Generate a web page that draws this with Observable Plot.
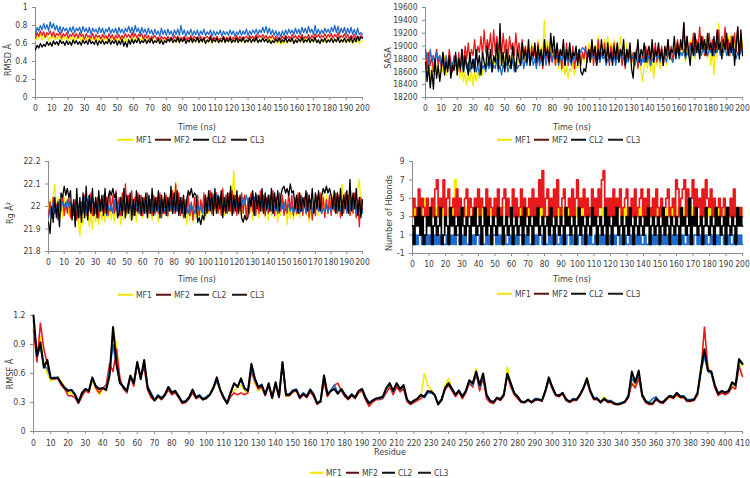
<!DOCTYPE html>
<html>
<head>
<meta charset="utf-8">
<script src="https://cdn.jsdelivr.net/npm/d3@7"></script>
<script src="https://cdn.jsdelivr.net/npm/@observablehq/plot@0.6"></script>
<style>
  body { margin: 0; background: #fff; }
  #fig { position: relative; width: 750px; height: 478px; overflow: hidden; background: #fff;
         font-family: "Liberation Sans Narrow", "Arial Narrow", "DejaVu Sans Condensed", Lato, sans-serif; color: #404040; }
  #fig svg { position: absolute; overflow: visible; }
  .t { position: absolute; white-space: nowrap; font-size: 9px; line-height: 1; transform: translate(-50%, -50%); }
  .ty { position: absolute; white-space: nowrap; font-size: 9px; line-height: 1; transform: translate(-50%, -50%) rotate(-90deg); }
  .lg { position: absolute; display: flex; align-items: center; font-size: 8.5px; line-height: 1; transform: translateY(-50%); }
  .lg .it { display: flex; align-items: center; }
  .lg .sw { height: 2px; margin-right: 3px; }
</style>
</head>
<body>
<div id="fig"></div>
<script>
// ---- series names and colours ----
const seriesNames = ["MF1", "MF2", "CL2", "CL3"];
const lineColors = ["#f4ea00", "#e8191b", "#1f6ccc", "#000000"];
const legendColors = ["#f0e400", "#5a1414", "#121212", "#1a1a1a"];

// ---- sampling (ns / residue) ----
const timeNs = d3.range(0, 201);          // one frame per ns
const residues = d3.range(0, 411, 2);     // every second residue

// ---- RMSD (Å) ----
const rmsdMF1 = [
.63,.68,.65,.70,.64,.69,.66,.70,.63,.68,.65,.69,.64,.67,.66,.69,.63,.68,.65,.67,
.62,.67,.64,.68,.63,.66,.65,.68,.62,.67,.64,.66,.63,.68,.62,.66,.64,.67,.63,.66,
.62,.66,.64,.67,.62,.65,.63,.67,.64,.66,.62,.65,.63,.67,.61,.66,.63,.65,.62,.67,
.63,.66,.62,.67,.64,.66,.62,.65,.63,.66,.61,.65,.62,.64,.63,.66,.61,.64,.62,.65,
.61,.64,.63,.66,.62,.64,.61,.65,.62,.64,.63,.65,.61,.64,.62,.66,.61,.63,.62,.65,
.61,.64,.62,.65,.61,.63,.62,.65,.60,.64,.62,.64,.61,.63,.62,.65,.61,.64,.62,.63,
.61,.64,.62,.66,.61,.64,.62,.65,.61,.63,.62,.65,.61,.64,.63,.66,.62,.64,.63,.66,
.62,.65,.63,.66,.62,.64,.61,.63,.60,.63,.59,.62,.60,.64,.61,.63,.62,.65,.61,.64,
.62,.65,.61,.64,.63,.66,.62,.64,.61,.65,.62,.64,.61,.63,.62,.65,.61,.64,.62,.66,
.62,.65,.61,.64,.63,.66,.62,.65,.61,.64,.62,.65,.61,.63,.60,.64,.61,.63,.60,.62,
.63];
const rmsdMF2 = [
.66,.72,.68,.74,.69,.73,.67,.72,.70,.74,.68,.73,.67,.71,.69,.73,.66,.71,.68,.72,
.66,.70,.68,.72,.67,.71,.66,.72,.68,.70,.65,.71,.67,.69,.66,.71,.65,.70,.67,.69,
.65,.70,.66,.69,.65,.71,.66,.70,.64,.69,.66,.70,.65,.69,.66,.71,.67,.70,.66,.72,
.67,.71,.66,.70,.68,.71,.65,.70,.66,.69,.64,.68,.66,.69,.65,.67,.64,.68,.65,.67,
.64,.68,.65,.67,.64,.69,.65,.68,.64,.67,.65,.68,.64,.67,.65,.69,.64,.68,.66,.67,
.65,.68,.64,.67,.66,.68,.65,.69,.64,.67,.65,.68,.64,.66,.65,.68,.64,.67,.65,.68,
.64,.67,.65,.69,.64,.68,.65,.67,.66,.68,.65,.69,.66,.68,.65,.70,.66,.69,.67,.70,
.66,.69,.65,.68,.66,.69,.64,.68,.65,.67,.64,.68,.65,.69,.66,.68,.65,.70,.66,.69,
.65,.69,.66,.70,.65,.68,.66,.70,.65,.69,.66,.71,.67,.70,.66,.69,.67,.71,.66,.70,
.67,.71,.66,.70,.67,.72,.66,.69,.67,.71,.66,.70,.65,.69,.66,.70,.65,.68,.66,.69,
.67];
const rmsdCL2 = [
.70,.78,.74,.80,.75,.82,.76,.81,.74,.84,.77,.82,.75,.80,.73,.79,.72,.78,.74,.77,
.71,.78,.73,.79,.72,.77,.74,.78,.71,.79,.73,.77,.72,.78,.70,.77,.73,.76,.71,.78,
.72,.77,.70,.76,.73,.78,.71,.76,.72,.77,.70,.78,.72,.76,.71,.77,.73,.79,.72,.78,
.71,.80,.73,.77,.70,.78,.72,.76,.70,.77,.71,.75,.69,.76,.70,.74,.68,.77,.70,.75,
.69,.76,.70,.74,.68,.75,.70,.76,.69,.80,.70,.75,.68,.74,.70,.76,.69,.74,.70,.75,
.68,.74,.70,.76,.69,.73,.70,.75,.68,.74,.69,.73,.70,.75,.68,.74,.70,.73,.69,.75,
.70,.74,.68,.73,.70,.75,.69,.74,.70,.76,.69,.74,.70,.75,.71,.76,.70,.75,.72,.78,
.72,.79,.71,.77,.70,.75,.69,.74,.68,.73,.67,.74,.69,.75,.70,.76,.71,.75,.70,.77,
.71,.76,.70,.78,.72,.77,.71,.79,.72,.76,.70,.80,.71,.76,.70,.75,.71,.77,.72,.76,
.71,.78,.73,.80,.72,.79,.71,.77,.72,.78,.70,.77,.71,.78,.70,.76,.69,.77,.70,.72,
.70];
const rmsdCL3 = [
.53,.58,.55,.60,.56,.59,.57,.62,.58,.61,.57,.63,.59,.62,.58,.64,.60,.62,.58,.63,
.59,.62,.58,.64,.60,.63,.59,.62,.58,.64,.60,.63,.59,.65,.60,.62,.59,.64,.58,.63,
.60,.64,.59,.62,.60,.65,.59,.63,.60,.64,.58,.63,.59,.65,.57,.62,.56,.64,.59,.65,
.60,.64,.61,.66,.60,.63,.61,.65,.60,.64,.61,.66,.60,.63,.61,.65,.60,.64,.59,.63,
.61,.65,.62,.66,.61,.64,.62,.67,.61,.65,.62,.66,.60,.64,.62,.66,.61,.65,.62,.67,
.61,.65,.62,.66,.60,.64,.62,.67,.61,.65,.62,.66,.61,.64,.62,.67,.61,.65,.62,.66,
.61,.64,.62,.66,.61,.65,.62,.67,.61,.64,.62,.66,.61,.65,.62,.67,.61,.64,.62,.66,
.62,.65,.61,.64,.60,.63,.61,.65,.62,.66,.61,.64,.62,.67,.61,.65,.62,.66,.60,.64,
.61,.65,.62,.67,.61,.64,.62,.66,.61,.65,.62,.67,.61,.64,.60,.65,.62,.66,.61,.64,
.62,.66,.61,.65,.62,.67,.61,.64,.62,.66,.61,.65,.62,.67,.61,.66,.62,.68,.63,.67,
.66];

// ---- SASA (Å²) ----
const sasaMF1 = [
18800,18550,18750,18500,18700,18600,18800,18550,18650,18500,18750,18600,18850,18550,18700,18650,18800,18600,18750,18650,
18550,18700,18500,18650,18450,18600,18400,18550,18450,18620,18380,18600,18450,18650,18500,18700,18550,18750,18600,18800,
18650,18850,18600,18800,18700,18900,18650,18850,18700,18950,18650,18800,18600,18850,18700,18900,18650,18800,18700,18950,
18750,18900,18700,19000,18800,18950,18750,19050,18850,19000,18800,19100,18850,19000,18900,19400,18950,19100,18850,19050,
18800,18950,18700,18900,18650,18850,18600,18750,18550,18700,18500,18650,18600,18750,18550,18700,18650,18800,18700,18900,
18750,18950,18850,19050,18900,19100,18850,19000,18950,19150,18900,19050,18850,19100,18950,19150,18900,19050,18950,19100,
18850,19050,18900,19150,18850,19000,18800,19050,18750,18950,18700,18900,18650,18850,18700,18800,18600,18450,18700,18850,
18650,18900,18600,18850,18500,18800,18700,18900,18650,18850,18750,18950,18700,18900,18800,18950,18750,19000,18850,18950,
18800,19050,18850,19000,18750,18950,18900,19100,18850,19050,18800,19000,18900,19100,18850,19050,18950,19150,18800,19000,
18700,18950,18550,19050,18800,19350,18900,19100,18850,19250,18950,19150,18900,19200,18850,19100,18950,19250,18900,19200,
19000];
const sasaMF2 = [
18950,18650,18900,18700,18850,18600,18800,18950,18700,18850,18650,18900,18700,18800,18650,18950,18750,18600,18850,18700,
18650,18900,18600,18950,18700,19000,18800,19050,18750,18950,18850,19100,18800,19000,18900,19150,18850,19250,18900,19100,
18950,19200,18850,19250,18900,19150,18950,19050,18850,19200,18900,19100,18800,19150,18950,19050,18850,19200,18900,19050,
18800,19100,18850,19000,18750,18950,18700,19000,18800,18950,18700,19050,18750,18900,18650,18950,18800,19000,18700,18900,
18750,18950,18700,19000,18800,18900,18650,18950,18750,19050,18700,18900,18800,19000,18650,18850,18750,18950,18700,18900,
18800,19000,18750,18950,18850,19050,18700,18950,18800,19100,18750,18900,18850,19050,18800,18950,18700,19000,18850,19050,
18750,19000,18800,18950,18700,18900,18650,18950,18800,19000,18750,18900,18700,18950,18650,18850,18700,18900,18750,19000,
18800,18950,18700,19000,18850,19050,18750,18950,18800,19000,18700,18900,18850,19100,18800,19000,18750,18950,18900,19100,
18850,19050,18950,19350,18900,19150,18850,19050,18950,19200,18900,19100,19000,19300,18950,19150,18850,19050,18950,19200,
18900,19100,18850,19050,18950,19250,18900,19150,19000,19300,18950,19100,18850,19150,18950,19200,18900,19300,18850,19050,
18950];
const sasaCL2 = [
18800,18900,18700,18950,18750,18850,18700,18900,18800,18850,18700,18800,18650,18850,18700,18800,18650,18750,18700,18850,
18650,18800,18700,18750,18600,18800,18650,18750,18600,18700,18650,18800,18600,18700,18550,18750,18650,18700,18600,18750,
18650,18750,18600,18700,18650,18800,18600,18700,18550,18700,18650,18750,18600,18700,18650,18800,18600,18750,18650,18700,
18700,18850,18650,18800,18700,18900,18750,18850,18700,18800,18650,18850,18700,18800,18750,18900,18700,18850,18800,18900,
18750,18900,18800,18850,18700,18850,18750,18900,18700,18850,18750,18800,18700,18850,18800,18900,18850,18950,18900,18980,
18950,18920,18880,18850,18750,18900,18800,18850,18700,18850,18750,18900,18800,18850,18700,18800,18750,18900,18800,18850,
18700,18850,18750,18900,18800,18850,18700,18800,18750,18900,18800,18850,18700,18800,18750,18850,18700,18800,18750,18900,
18750,18850,18700,18800,18750,18900,18800,18850,18750,18900,18800,18850,18750,18900,18850,18800,18750,18900,18850,18950,
18800,18900,18850,18950,18800,18900,18850,19000,18900,18950,18850,19000,18900,19050,18850,18950,18900,19000,18850,18950,
18900,19000,18850,18950,18900,19050,18850,18950,18900,19000,18850,18950,18900,19050,18850,18950,18800,18900,18850,18950,
18900];
const sasaCL3 = [
18750,18450,18700,18350,18620,18330,18800,18500,18700,18450,18650,18900,18550,18750,18600,18850,18500,18700,18620,18900,
18550,18800,18650,18950,18600,18850,18700,18550,18900,18650,18800,18600,18950,18700,18850,18550,18900,18750,18650,19000,
18700,18950,18600,18850,18750,19050,18650,19350,18700,18900,18600,18950,18700,18850,18650,19000,18750,18600,18950,18800,
18700,19050,18800,18950,18750,19100,18700,18900,18850,19050,18750,19000,18800,18950,18700,19100,18850,18950,18750,19200,
18900,19150,18800,19050,18750,18950,18850,19100,18700,18950,18800,19050,18750,18900,18850,19000,18700,18950,18600,18550,
18650,18600,18800,18950,18750,19100,18850,19000,18700,18950,18800,19100,18850,18950,18750,19050,18800,18900,18700,19000,
18800,19050,18750,18950,18850,19100,18700,18950,18800,19050,18650,18500,18900,18800,19100,18750,18950,18850,19050,18750,
18900,19000,18800,19100,18750,18950,18850,19050,18800,18950,18700,19000,18850,19100,18800,18950,18900,19150,18800,19050,
18850,19100,18950,19370,18850,19150,18900,18700,19050,18850,19200,18900,19050,18800,19150,18950,19100,18850,19200,18950,
19050,18850,19150,18900,19250,18950,19050,18800,19100,18950,19200,18850,19050,18900,19150,18700,19000,19300,18800,19250,
18850];

// ---- Radius of gyration (Å) ----
const rgMF1 = [
21.99,22.03,21.97,22.05,22.10,21.98,22.04,21.96,22.02,21.95,22.04,21.98,22.03,21.96,22.01,21.94,22.02,21.97,22.03,21.93,
21.87,21.98,21.92,22.02,21.95,22.00,21.91,21.97,21.90,21.99,21.93,21.97,21.92,21.98,21.94,22.00,21.93,21.98,21.95,22.01,
21.94,21.99,21.93,22.02,21.95,22.00,21.92,21.98,21.94,22.03,21.96,22.01,21.94,22.02,21.95,22.00,21.93,22.03,21.96,22.01,
21.95,22.02,21.97,22.04,21.95,22.01,21.94,22.03,21.96,22.02,21.93,22.01,21.96,22.04,21.97,22.02,21.95,22.05,21.98,22.04,
21.97,22.11,21.98,22.05,21.96,22.03,21.95,22.02,21.92,21.99,21.94,22.01,21.93,21.98,21.95,22.02,21.94,22.00,21.96,22.03,
21.95,22.02,21.97,22.04,21.96,22.06,21.98,22.03,21.97,22.05,21.99,22.04,21.96,22.03,21.98,22.06,21.97,22.05,22.16,22.02,
21.98,22.04,21.96,22.03,21.97,22.05,21.95,22.02,21.96,22.04,21.94,22.01,21.97,22.05,21.95,22.03,21.97,22.04,21.95,22.01,
21.94,22.02,21.96,22.04,21.95,22.03,21.93,22.01,21.96,22.04,21.97,22.03,21.92,22.00,21.95,22.02,21.94,22.01,21.96,22.03,
21.95,22.02,21.97,22.04,21.96,22.01,21.93,21.99,21.95,22.03,21.97,22.05,21.96,22.04,21.98,22.06,21.97,22.05,21.99,22.04,
21.97,22.05,21.98,22.03,21.96,22.04,21.99,22.10,21.97,22.05,21.98,22.04,21.96,22.06,21.97,22.03,21.95,22.08,22.12,22.00,
22.02];
const rgMF2 = [
21.96,22.02,21.95,22.04,21.97,22.01,21.94,22.03,21.98,22.05,21.96,22.02,21.97,22.04,21.95,22.01,21.96,22.03,21.94,22.00,
21.95,22.02,21.97,22.05,21.96,22.03,21.98,22.06,21.96,22.02,21.97,22.04,21.95,22.03,21.98,22.05,21.97,22.04,21.96,22.06,
21.98,22.05,21.97,22.07,21.99,22.04,21.96,22.06,21.98,22.10,21.97,22.05,21.99,22.07,21.96,22.04,21.98,22.06,21.97,22.05,
21.96,22.04,21.98,22.06,21.97,22.03,21.96,22.05,21.98,22.04,21.97,22.06,21.95,22.03,21.97,22.05,21.96,22.04,21.98,22.07,
21.97,22.10,21.98,22.06,21.96,22.04,21.95,22.03,21.97,22.05,21.96,22.02,21.94,22.04,21.97,22.05,21.96,22.03,21.98,22.06,
21.96,22.04,21.98,22.07,21.97,22.05,21.99,22.06,21.97,22.04,21.96,22.08,21.98,22.05,21.97,22.06,21.98,22.07,21.97,22.05,
21.96,22.04,21.98,22.06,21.97,22.05,21.95,22.03,21.97,22.06,21.98,22.04,21.96,22.05,21.97,22.07,21.98,22.05,21.96,22.04,
21.97,22.05,21.98,22.07,21.96,22.04,21.97,22.06,21.98,22.05,21.96,22.03,21.97,22.06,21.98,22.05,21.96,22.04,21.97,22.06,
21.98,22.05,21.96,22.04,21.97,22.06,21.95,22.03,21.94,22.02,21.96,22.05,21.98,22.06,21.97,22.04,21.95,22.03,21.97,22.05,
21.96,22.04,21.98,22.06,21.97,22.05,21.95,22.03,21.97,22.06,21.98,22.05,21.96,22.04,21.97,22.06,21.95,22.03,21.91,22.04,
21.98];
const rgCL2 = [
21.95,21.99,21.96,22.02,21.97,22.00,21.98,22.03,21.99,22.02,22.01,21.99,22.03,22.00,22.02,21.98,22.01,21.97,22.03,21.99,
21.96,22.02,21.98,22.04,21.97,22.03,22.05,22.01,22.04,21.98,22.02,21.97,22.01,21.98,22.03,21.99,22.02,21.96,22.00,21.98,
22.01,21.97,22.03,21.98,22.02,21.96,22.01,21.99,22.04,21.98,22.02,21.97,22.00,21.99,22.03,21.98,22.01,21.97,22.02,21.99,
21.98,22.02,21.97,22.01,21.99,22.03,21.98,22.02,21.97,22.01,21.98,22.03,21.99,22.02,21.98,22.00,21.97,22.02,21.99,22.03,
22.00,21.97,22.02,21.98,22.01,21.97,22.00,21.96,21.99,21.97,22.01,21.98,22.00,21.97,21.99,22.01,21.98,22.00,21.97,22.01,
21.98,22.02,21.99,22.03,22.01,22.04,22.02,22.05,22.03,22.01,22.04,21.99,22.02,21.98,22.03,22.00,22.04,22.01,22.03,21.99,
22.02,21.98,22.03,22.00,22.04,22.01,22.05,22.02,22.04,22.01,22.06,22.03,22.05,22.02,22.04,22.01,22.03,21.99,22.02,21.98,
22.01,21.98,22.02,21.97,22.00,21.98,22.01,21.97,22.03,21.99,22.02,21.98,21.99,22.01,21.98,22.00,21.97,21.99,21.98,22.00,
21.97,21.99,21.98,22.01,21.97,22.00,21.98,22.02,21.97,22.01,21.99,22.03,21.98,22.00,21.97,21.99,21.98,22.01,21.97,22.00,
21.98,22.02,21.99,22.01,21.97,22.03,21.98,22.00,21.99,22.02,21.97,22.01,21.98,22.03,21.99,22.01,21.97,22.02,21.98,22.00,
21.97];
const rgCL3 = [
21.93,21.88,22.00,21.93,22.04,21.95,22.02,21.91,22.06,22.04,22.09,22.05,22.08,22.04,22.07,21.94,22.03,21.91,22.08,21.95,
22.04,21.93,22.06,21.95,22.09,21.94,22.05,21.97,22.08,21.96,22.04,21.95,22.07,21.98,22.05,21.96,22.08,21.97,22.04,22.07,
22.05,22.08,22.04,22.06,21.95,21.97,22.04,21.96,22.08,21.95,22.05,21.97,22.06,21.94,22.03,21.96,22.07,21.98,22.05,21.96,
22.04,21.97,22.06,21.95,22.05,21.97,22.08,21.96,22.04,21.98,22.07,21.95,22.05,21.97,22.06,21.96,22.04,21.98,22.09,21.97,
22.06,21.98,22.07,21.96,22.04,21.97,22.05,21.95,22.03,22.07,22.05,22.08,22.04,22.06,22.05,21.93,21.95,21.92,21.96,21.94,
22.05,21.97,22.07,21.98,22.06,21.96,22.08,21.97,22.05,21.99,22.07,21.95,22.04,21.97,22.06,21.98,22.09,21.96,22.05,21.98,
22.07,21.97,22.05,21.95,21.93,21.96,21.94,21.95,22.04,22.00,22.07,21.96,22.06,21.99,22.05,21.98,22.08,21.97,22.06,21.99,
22.05,21.98,22.08,21.97,22.06,21.99,22.07,21.98,22.05,22.08,22.09,22.06,22.08,22.05,22.10,22.06,22.07,21.99,22.05,21.97,
22.06,21.98,22.04,22.00,22.07,21.98,22.05,21.99,22.08,21.97,22.06,21.99,22.07,21.98,22.05,22.08,22.06,22.09,22.06,22.08,
22.05,21.99,22.07,21.97,22.06,21.98,22.08,21.96,22.05,21.99,22.07,21.97,22.12,21.98,22.06,21.99,22.08,21.96,22.04,21.95,
22.03];

// ---- Hydrogen bonds (count) ----
const hbMF1 = [
3,4,3,4,3,4,4,3,5,4,3,4,3,3,4,3,4,3,4,3,
5,4,3,4,3,4,7,4,3,4,3,4,4,3,4,3,3,4,3,4,
3,4,3,4,4,3,4,3,4,3,3,4,3,4,3,4,4,3,4,3,
4,3,4,3,3,4,3,4,3,4,4,3,4,3,4,3,3,4,3,4,
3,4,4,3,4,3,4,3,3,4,3,4,3,4,4,3,4,3,4,3,
4,3,3,4,3,4,3,4,4,3,4,3,4,3,3,4,3,4,3,4,
5,4,3,4,3,4,5,3,4,3,4,3,3,4,3,4,4,3,4,3,
3,4,3,4,4,3,4,5,3,4,3,4,3,3,4,3,4,3,4,4,
4,3,4,3,3,4,3,4,4,3,4,3,4,3,3,4,3,4,3,4,
3,4,3,4,4,3,4,3,3,4,3,4,3,4,4,3,4,3,4,3,
4];
const hbMF2 = [
3,5,4,3,6,3,5,4,3,5,3,4,5,3,6,7,3,5,4,7,
3,5,6,3,4,5,3,6,3,5,4,3,5,6,3,5,4,3,5,4,
6,3,5,4,3,6,3,5,4,3,5,3,6,4,3,5,6,3,5,3,
4,6,3,5,3,4,6,3,5,3,4,5,3,6,3,5,3,7,4,8,
3,5,6,3,5,3,6,3,7,4,3,5,6,3,4,5,3,6,3,5,
7,3,5,4,6,3,5,3,4,6,3,5,3,6,4,7,8,3,5,3,
5,3,6,3,5,4,6,3,4,5,6,3,4,5,3,6,3,4,5,6,
3,5,3,6,4,3,5,3,6,4,3,5,3,4,5,6,3,4,5,3,
7,6,3,5,6,7,3,6,4,5,7,3,6,4,5,3,6,3,7,5,
4,6,3,5,3,4,5,3,4,5,3,4,3,5,3,6,3,4,3,4,
3];
const hbCL2 = [
1,0,1,0,1,1,0,1,0,1,0,1,0,0,1,0,1,0,1,0,
0,1,0,1,0,1,0,1,1,0,1,0,1,0,0,1,0,1,0,1,
1,0,1,0,0,1,0,1,0,1,1,0,1,0,1,0,1,0,0,1,
0,1,0,1,0,1,1,0,1,0,1,0,0,1,0,1,0,1,1,0,
1,0,0,1,0,1,0,1,0,0,1,0,1,0,1,1,0,1,0,1,
0,1,1,0,1,0,1,0,1,0,0,1,0,1,0,1,0,1,0,0,
1,0,1,0,1,1,0,1,0,1,0,0,1,0,1,0,1,0,1,0,
0,1,0,0,1,0,1,0,1,0,1,1,0,1,0,1,0,0,1,0,
1,0,1,0,1,0,0,1,0,1,0,1,1,0,1,0,1,0,1,0,
0,1,0,1,0,1,0,1,1,0,1,0,1,0,0,1,0,1,0,1,
0];
const hbCL3 = [
2,0,3,2,4,1,3,0,1,3,2,4,0,2,3,1,2,4,0,1,
3,2,0,4,2,3,1,2,3,0,4,2,1,3,2,0,3,2,4,1,
2,3,0,2,4,1,3,2,0,3,2,1,4,2,3,0,2,3,1,2,
4,0,2,3,1,2,3,0,4,2,1,3,2,0,3,2,4,1,2,3,
0,2,3,1,4,2,0,3,2,1,3,2,0,4,2,3,1,2,3,0,
2,4,1,3,2,0,3,2,1,4,2,3,0,2,3,1,2,4,0,3,
2,0,3,2,4,1,2,3,0,2,3,1,4,2,0,3,2,1,3,2,
1,3,2,4,0,2,3,1,2,3,0,2,4,1,3,2,0,3,2,1,
3,2,0,4,2,3,1,2,5,0,3,2,4,1,2,3,0,2,4,2,
1,3,2,0,4,2,3,1,2,3,0,4,2,1,3,2,0,4,2,3,
2];

// ---- RMSF per residue (Å) ----
const rmsfMF1 = [
1.05,0.78,0.98,0.70,0.60,0.52,0.55,0.55,0.52,0.46,
0.40,0.40,0.37,0.30,0.38,0.43,0.41,0.52,0.44,0.38,
0.44,0.42,0.60,1.05,0.90,0.52,0.45,0.40,0.57,0.48,
0.70,0.55,0.70,0.44,0.37,0.33,0.36,0.34,0.37,0.44,
0.39,0.41,0.35,0.30,0.31,0.35,0.41,0.35,0.36,0.34,
0.35,0.38,0.44,0.52,0.42,0.35,0.30,0.40,0.42,0.45,
0.48,0.42,0.40,0.63,0.50,0.42,0.45,0.38,0.48,0.35,
0.49,0.36,0.70,0.36,0.37,0.41,0.42,0.35,0.40,0.36,
0.42,0.37,0.30,0.31,0.50,0.38,0.43,0.47,0.40,0.43,
0.38,0.34,0.37,0.35,0.40,0.43,0.34,0.30,0.31,0.34,
0.34,0.35,0.43,0.47,0.40,0.47,0.42,0.45,0.33,0.30,
0.31,0.33,0.36,0.60,0.48,0.43,0.38,0.29,0.33,0.48,
0.55,0.44,0.38,0.42,0.36,0.41,0.52,0.50,0.65,0.46,
0.58,0.36,0.31,0.30,0.34,0.33,0.37,0.67,0.48,0.38,
0.35,0.31,0.30,0.33,0.30,0.33,0.33,0.33,0.42,0.55,
0.45,0.38,0.37,0.39,0.33,0.31,0.33,0.34,0.38,0.45,
0.56,0.41,0.34,0.34,0.31,0.36,0.31,0.31,0.29,0.28,
0.29,0.31,0.35,0.55,0.48,0.58,0.37,0.31,0.29,0.29,
0.33,0.31,0.30,0.33,0.35,0.35,0.37,0.35,0.35,0.32,
0.32,0.33,0.38,0.60,0.80,0.68,0.60,0.47,0.40,0.41,
0.39,0.41,0.48,0.45,0.70,0.68];
const rmsfMF2 = [
1.05,0.72,1.12,0.85,0.70,0.55,0.54,0.55,0.48,0.44,
0.37,0.37,0.35,0.29,0.36,0.42,0.40,0.55,0.45,0.40,
0.45,0.48,0.70,0.62,0.85,0.55,0.44,0.40,0.56,0.47,
0.70,0.58,0.66,0.43,0.35,0.32,0.36,0.33,0.37,0.43,
0.38,0.40,0.35,0.29,0.30,0.34,0.40,0.34,0.36,0.33,
0.34,0.38,0.46,0.55,0.42,0.34,0.29,0.36,0.40,0.38,
0.40,0.38,0.40,0.62,0.52,0.44,0.46,0.37,0.47,0.34,
0.48,0.35,0.70,0.37,0.37,0.41,0.42,0.34,0.38,0.35,
0.41,0.36,0.28,0.31,0.52,0.36,0.42,0.48,0.50,0.42,
0.36,0.33,0.37,0.34,0.40,0.42,0.33,0.26,0.30,0.33,
0.33,0.34,0.40,0.46,0.38,0.46,0.41,0.44,0.31,0.28,
0.30,0.32,0.34,0.37,0.40,0.42,0.37,0.28,0.32,0.43,
0.48,0.42,0.36,0.41,0.34,0.40,0.50,0.46,0.60,0.42,
0.55,0.34,0.30,0.29,0.34,0.32,0.37,0.58,0.46,0.38,
0.34,0.30,0.30,0.32,0.30,0.32,0.33,0.31,0.41,0.53,
0.44,0.37,0.36,0.39,0.32,0.30,0.32,0.32,0.37,0.44,
0.52,0.40,0.33,0.33,0.30,0.33,0.30,0.30,0.28,0.28,
0.29,0.30,0.35,0.50,0.45,0.55,0.36,0.30,0.28,0.28,
0.33,0.30,0.29,0.33,0.36,0.34,0.38,0.35,0.35,0.31,
0.31,0.32,0.38,0.62,1.08,0.65,0.60,0.45,0.37,0.40,
0.38,0.40,0.46,0.44,0.68,0.57];
const rmsfCL2 = [
1.15,0.78,0.87,0.68,0.65,0.55,0.56,0.55,0.50,0.46,
0.43,0.43,0.39,0.31,0.39,0.44,0.42,0.55,0.47,0.44,
0.45,0.44,0.62,0.90,0.68,0.50,0.47,0.41,0.57,0.50,
0.70,0.56,0.72,0.47,0.40,0.33,0.38,0.35,0.39,0.46,
0.41,0.42,0.37,0.31,0.32,0.36,0.44,0.36,0.38,0.34,
0.36,0.39,0.45,0.52,0.43,0.36,0.30,0.41,0.49,0.47,
0.53,0.44,0.42,0.66,0.53,0.46,0.49,0.39,0.49,0.36,
0.50,0.37,0.70,0.39,0.39,0.43,0.44,0.36,0.40,0.37,
0.44,0.39,0.30,0.32,0.58,0.39,0.43,0.48,0.40,0.44,
0.39,0.35,0.39,0.36,0.42,0.44,0.36,0.30,0.32,0.34,
0.34,0.35,0.44,0.49,0.41,0.50,0.43,0.47,0.33,0.30,
0.32,0.34,0.37,0.35,0.40,0.40,0.38,0.29,0.34,0.44,
0.50,0.45,0.38,0.43,0.37,0.42,0.52,0.48,0.60,0.46,
0.57,0.37,0.32,0.31,0.35,0.34,0.39,0.58,0.49,0.39,
0.36,0.31,0.31,0.33,0.31,0.34,0.34,0.32,0.42,0.54,
0.46,0.38,0.38,0.40,0.34,0.31,0.34,0.33,0.38,0.45,
0.53,0.42,0.35,0.35,0.31,0.34,0.32,0.32,0.29,0.29,
0.30,0.31,0.38,0.55,0.50,0.60,0.38,0.32,0.30,0.34,
0.36,0.31,0.31,0.34,0.37,0.36,0.40,0.37,0.37,0.33,
0.33,0.34,0.40,0.62,0.78,0.62,0.60,0.47,0.40,0.42,
0.41,0.42,0.50,0.47,0.72,0.70];
const rmsfCL3 = [
1.20,0.78,0.92,0.66,0.74,0.55,0.55,0.56,0.50,0.45,
0.42,0.43,0.38,0.30,0.40,0.44,0.42,0.56,0.47,0.44,
0.45,0.43,0.58,1.08,0.70,0.50,0.46,0.42,0.58,0.50,
0.72,0.54,0.74,0.45,0.38,0.32,0.37,0.34,0.38,0.46,
0.40,0.42,0.36,0.30,0.31,0.35,0.43,0.35,0.37,0.33,
0.35,0.38,0.45,0.56,0.43,0.35,0.29,0.40,0.50,0.46,
0.55,0.45,0.42,0.70,0.55,0.46,0.48,0.38,0.50,0.35,
0.51,0.36,0.72,0.38,0.38,0.42,0.43,0.35,0.39,0.36,
0.43,0.38,0.29,0.31,0.58,0.38,0.42,0.44,0.39,0.44,
0.38,0.34,0.38,0.35,0.42,0.44,0.35,0.29,0.32,0.34,
0.35,0.36,0.45,0.50,0.42,0.50,0.44,0.48,0.33,0.29,
0.32,0.34,0.38,0.36,0.42,0.41,0.38,0.28,0.33,0.45,
0.50,0.44,0.38,0.42,0.36,0.42,0.53,0.50,0.62,0.48,
0.60,0.38,0.32,0.30,0.35,0.33,0.38,0.60,0.50,0.40,
0.36,0.31,0.30,0.33,0.30,0.33,0.33,0.32,0.42,0.56,
0.46,0.38,0.37,0.40,0.33,0.31,0.33,0.33,0.38,0.45,
0.55,0.42,0.34,0.34,0.30,0.34,0.31,0.31,0.29,0.28,
0.29,0.31,0.36,0.62,0.51,0.63,0.38,0.31,0.29,0.29,
0.34,0.31,0.30,0.34,0.37,0.35,0.40,0.36,0.36,0.32,
0.32,0.33,0.40,0.65,0.85,0.63,0.62,0.48,0.39,0.42,
0.40,0.42,0.51,0.48,0.75,0.70];

// ---- axis ticks ----
const timeTicks = d3.range(0, 201, 10);
const residueTicks = d3.range(0, 411, 10);
const rmsdTicks = [0, 0.2, 0.4, 0.6, 0.8, 1];
const sasaTicks = [18200, 18400, 18600, 18800, 19000, 19200, 19400, 19600];
const rgTicks = [21.8, 21.9, 22, 22.1, 22.2];
const hbTicks = [-1, 1, 3, 5, 7, 9];
const rmsfTicks = [0, 0.3, 0.6, 0.9, 1.2];

const fig = document.getElementById("fig");
const AXIS = "#8c8c8c";
const fmt = d => String(+d.toFixed(2));

function text(cls, str, x, y) {
  const el = document.createElement("div");
  el.className = cls;
  el.textContent = str;
  el.style.left = x + "px";
  el.style.top = y + "px";
  fig.appendChild(el);
}

function legend(x, y, step, swatch) {
  const box = document.createElement("div");
  box.className = "lg";
  box.style.left = x + "px";
  box.style.top = y + "px";
  seriesNames.forEach((name, i) => {
    const it = document.createElement("div");
    it.className = "it";
    it.style.width = step + "px";
    const sw = document.createElement("div");
    sw.className = "sw";
    sw.style.width = swatch + "px";
    sw.style.background = legendColors[i];
    const lb = document.createElement("span");
    lb.textContent = name;
    it.append(sw, lb);
    box.appendChild(it);
  });
  fig.appendChild(box);
}

function panel(c) {
  const marks = c.series.map((vals, i) =>
    Plot.line(vals, {x: (d, j) => c.xs[j], y: d => d, stroke: lineColors[i],
                     strokeWidth: c.sw[i], curve: c.curve || "linear"})
  );
  const chart = Plot.plot({
    width: c.w, height: c.h,
    marginLeft: c.px[0] - c.left, marginRight: c.left + c.w - c.px[1],
    marginTop: c.py[0] - c.top, marginBottom: c.top + c.h - c.py[1],
    style: {fontSize: "8.5px", color: "#404040", background: "transparent",
            fontFamily: "inherit", overflow: "visible"},
    x: {domain: c.xDomain},
    y: {domain: c.yDomain},
    marks: [
      Plot.ruleY([c.yDomain[0]], {stroke: AXIS}),
      Plot.ruleX([c.xDomain[0]], {stroke: AXIS}),
      Plot.axisX({ticks: c.xTicks, tickSize: 3, tickPadding: c.xPad, stroke: AXIS, label: null, tickFormat: d => String(d)}),
      Plot.axisY({ticks: c.yTicks, tickSize: 3, tickPadding: 5, stroke: AXIS, label: null, tickFormat: c.yFmt}),
      ...marks
    ]
  });
  chart.style.left = c.left + "px";
  chart.style.top = c.top + "px";
  fig.appendChild(chart);
}

const dense = [1.3, 1.3, 1.3, 1.3];

// RMSD
panel({left: 0, top: 0, w: 375, h: 118, px: [35, 362], py: [7, 97],
  xs: timeNs, xDomain: [0, 200], yDomain: [0, 1], xTicks: timeTicks, yTicks: rmsdTicks, yFmt: fmt, xPad: 4,
  series: [rmsdMF1, rmsdMF2, rmsdCL2, rmsdCL3], sw: dense});
text("t", "Time (ns)", 197, 127);
text("ty", "RMSD Å", 8, 60);
legend(117, 140, 38, 16);

// SASA
panel({left: 375, top: 0, w: 375, h: 118, px: [425, 742], py: [7, 97],
  xs: timeNs, xDomain: [0, 200], yDomain: [18200, 19600], xTicks: timeTicks, yTicks: sasaTicks, yFmt: d => String(d), xPad: 4,
  series: [sasaMF1, sasaMF2, sasaCL2, sasaCL3], sw: dense});
text("t", "Time (ns)", 572, 127);
text("ty", "SASA", 388, 58);
legend(497, 140, 37, 15);

// Radius of gyration
panel({left: 0, top: 150, w: 375, h: 118, px: [48, 362], py: [161, 251],
  xs: timeNs, xDomain: [0, 200], yDomain: [21.8, 22.2], xTicks: timeTicks, yTicks: rgTicks, yFmt: fmt, xPad: 4,
  series: [rgMF1, rgMF2, rgCL2, rgCL3], sw: dense});
text("t", "Time (ns)", 197, 279);
text("ty", "Rg Å²", 10, 213);
legend(118, 295, 38, 15);

// Hydrogen bonds (integer counts, drawn as steps)
panel({left: 375, top: 150, w: 375, h: 118, px: [412, 742], py: [161, 253],
  xs: timeNs, xDomain: [0, 200], yDomain: [-1, 9], xTicks: timeTicks, yTicks: hbTicks, yFmt: d => String(d), xPad: 4,
  series: [hbMF1, hbMF2, hbCL2, hbCL3], sw: [1.7, 1.7, 1.7, 1.7], curve: "step"});
text("t", "Time (ns)", 572, 279);
text("ty", "Number of Hbonds", 389, 213);
legend(497, 294, 37, 15);

// RMSF
panel({left: 0, top: 305, w: 750, h: 150, px: [33, 742], py: [315, 431],
  xs: residues, xDomain: [0, 410], yDomain: [0, 1.2], xTicks: residueTicks, yTicks: rmsfTicks, yFmt: fmt, xPad: 5,
  series: [rmsfMF1, rmsfMF2, rmsfCL2, rmsfCL3], sw: [1.6, 1.6, 1.6, 2]});
text("t", "Residue", 390, 452);
text("ty", "RMSF Å", 10, 374);
legend(310, 473, 36, 13);
</script>
</body>
</html>
